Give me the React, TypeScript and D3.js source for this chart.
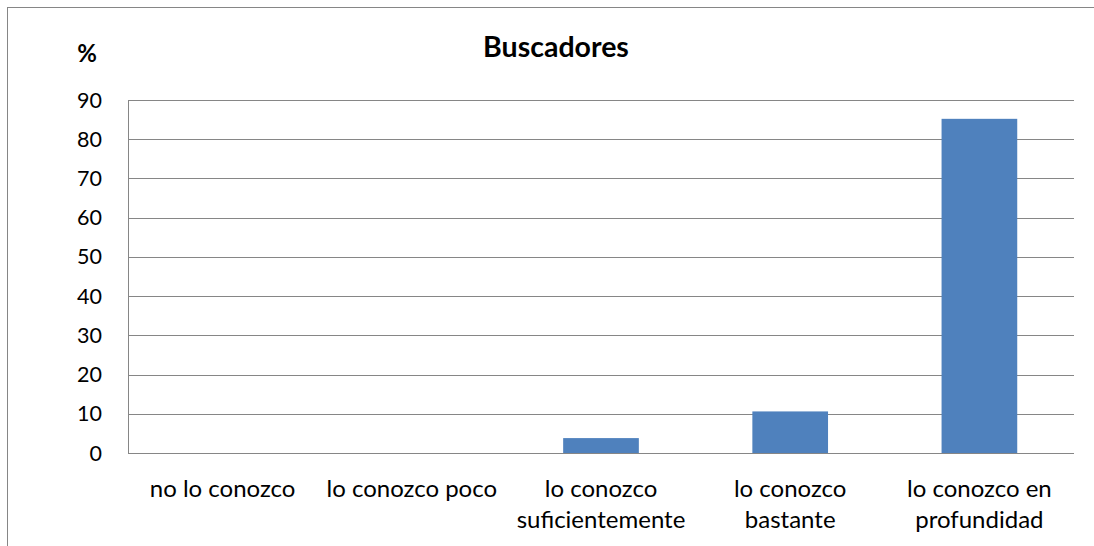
import * as d3 from "d3";

const categories = [
  ["no lo conozco"],
  ["lo conozco poco"],
  ["lo conozco", "suficientemente"],
  ["lo conozco", "bastante"],
  ["lo conozco en", "profundidad"],
];
const values = [0, 0, 3.8, 10.6, 85.2];
const yTicks = [0, 10, 20, 30, 40, 50, 60, 70, 80, 90];

const W = 1094;
const H = 546;
const font = "Lato, 'Open Sans', sans-serif";

export default function App() {
  const left = 128;
  const right = 1074;
  const top = 100;
  const bottom = 453;

  const x = d3
    .scaleBand<number>()
    .domain(d3.range(categories.length))
    .range([left, right])
    .paddingInner(0.6)
    .paddingOuter(0.3);
  const step = (right - left) / categories.length;
  const y = d3.scaleLinear().domain([0, 90]).range([bottom, top]);

  return (
    <svg width={W} height={H} style={{ display: "block", position: "absolute", left: 0, top: 0 }} fontFamily={font}>
      <rect x={0} y={0} width={W} height={H} fill="#fff" />
      <rect x={7.5} y={7.5} width={1100} height={600} fill="none" stroke="#868686" strokeWidth={1} />
      <text x={556} y={57} textAnchor="middle" fontSize={28.5} fontWeight="bold" fill="#000">
        Buscadores
      </text>
      <text x={87} y={62} textAnchor="middle" fontSize={24} fontWeight="bold" fill="#000">
        %
      </text>
      {yTicks.map((t) => (
        <g key={t}>
          <line x1={left} x2={right} y1={Math.round(y(t)) + 0.5} y2={Math.round(y(t)) + 0.5} stroke="#868686" />
          <text x={102} y={y(t)} dy="0.35em" textAnchor="end" fontSize={21.5} fill="#000">
            {t}
          </text>
        </g>
      ))}
      <line x1={left + 0.5} x2={left + 0.5} y1={top} y2={bottom} stroke="#868686" />
      {values.map((v, i) =>
        v > 0 ? (
          <rect key={i} x={x(i)} y={y(v)} width={x.bandwidth()} height={bottom - y(v)} fill="#4F81BD" />
        ) : null
      )}
      {categories.map((lines, i) => (
        <text key={i} x={left + step * (i + 0.5)} y={497} textAnchor="middle" fontSize={24} fill="#000">
          {lines.map((l, j) => (
            <tspan key={j} x={left + step * (i + 0.5)} dy={j === 0 ? 0 : 31}>
              {l}
            </tspan>
          ))}
        </text>
      ))}
    </svg>
  );
}
